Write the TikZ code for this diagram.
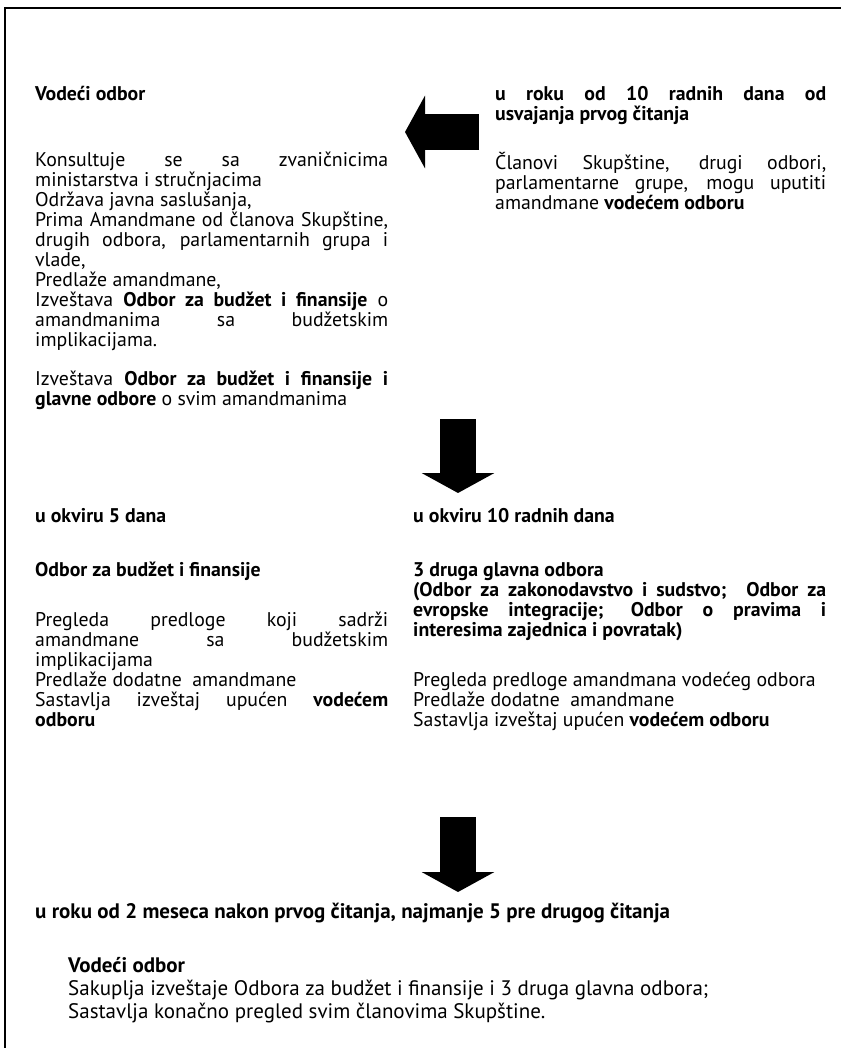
\documentclass[tikz,border=0pt]{standalone}
\usepackage{fontspec}
\setmainfont{PT Sans}
\usepackage{tikz}
\usetikzlibrary{arrows.meta, positioning}

\tikzset{
  txt/.style={anchor=north west, inner sep=0pt, font=\fontsize{19.8}{20}\selectfont},
  para/.style={txt, align=justify, text width=#1},
  hd/.style={txt, font=\fontsize{19.8}{20}\selectfont\bfseries},
  big/.style={anchor=north west, inner sep=0pt, font=\fontsize{21}{23}\selectfont},
  blockarrow/.style={line width=36pt, -{Triangle[length=20pt, width=72pt]}}
}

\begin{document}
\begin{tikzpicture}[x=1pt, y=-1pt]
                \useasboundingbox (0,0) rectangle (841,1048);
                \draw[line width=2pt] (5,1048) -- (5,8) -- (841,8);
                % gornji red
                \node[hd] (lead) at (35,86) {Vodeći odbor};
                \node[para=353pt] (leadtxt) at (35,152) {Konsultuje se sa zvaničnicima\linebreak ministarstva i stručnjacima\\
                    Održava javna saslušanja,\\
                    Prima Amandmane od članova Skupštine,\linebreak drugih odbora, parlamentarnih grupa i\linebreak vlade,\\
                    Predlaže amandmane,\\
                    Izveštava \textbf{Odbor za budžet i finansije} o\linebreak amandmanima sa budžetskim\linebreak implikacijama.};
                \node[para=353pt] (leadrep) at (35,371) {Izveštava \textbf{Odbor za budžet i finansije i}\linebreak \textbf{glavne odbore} o svim amandmanima};
                \node[para=331pt, font=\fontsize{19.8}{20}\selectfont\bfseries] (deadline) at (495,86) {u roku od 10 radnih dana od\linebreak usvajanja prvog čitanja};
                \node[para=331pt] (members) at (495,152) {Članovi Skupštine, drugi odbori,\linebreak parlamentarne grupe, mogu uputiti\linebreak amandmane \textbf{vodećem odboru}};
                \coordinate (amIn) at (479,132);
                \coordinate (amOut) at (405,132);
                \draw[blockarrow] (amIn) -- (amOut);
                % srednji red
                \coordinate (toMid) at (458,419);
                \coordinate (atMid) at (458,493);
                \draw[blockarrow] (toMid) -- (atMid);
                \node[hd] (five) at (35,508) {u okviru 5 dana};
                \node[hd] (budget) at (35,562) {Odbor za budžet i finansije};
                \node[para=353pt] (budgettxt) at (35,612) {Pregleda predloge koji sadrži\linebreak amandmane sa budžetskim\linebreak implikacijama\\
                    Predlaže dodatne~ amandmane\\
                    Sastavlja izveštaj upućen \textbf{vodećem}\linebreak \textbf{odboru}};
                \node[hd] (ten) at (413,508) {u okviru 10 radnih dana};
                \node[para=413pt, font=\fontsize{19.8}{20}\selectfont\bfseries] (three) at (413,562) {3 druga glavna odbora\\
                    (Odbor za zakonodavstvo i sudstvo;~ Odbor za\linebreak evropske integracije; Odbor o pravima i\linebreak interesima zajednica i povratak)};
                \node[para=413pt] (threetxt) at (413,672) {Pregleda predloge amandmana vodećeg odbora\\
                    Predlaže dodatne~ amandmane\\
                    Sastavlja izveštaj upućen \textbf{vodećem odboru}};
                % donji red
                \coordinate (toEnd) at (458,817);
                \coordinate (atEnd) at (458,892);
                \draw[blockarrow] (toEnd) -- (atEnd);
                \node[big, font=\fontsize{21}{23}\selectfont\bfseries] (final) at (35,903) {u roku od 2 meseca nakon prvog čitanja, najmanje 5 pre drugog čitanja};
                \node[big, font=\fontsize{21}{23}\selectfont\bfseries] (leadend) at (68,957) {Vodeći odbor};
                \node[big, align=left] (leadendtxt) at (68,980) {Sakuplja izveštaje Odbora za budžet i finansije i 3 druga glavna odbora;\\
                    Sastavlja konačno pregled svim članovima Skupštine.};
\end{tikzpicture}
\end{document}
